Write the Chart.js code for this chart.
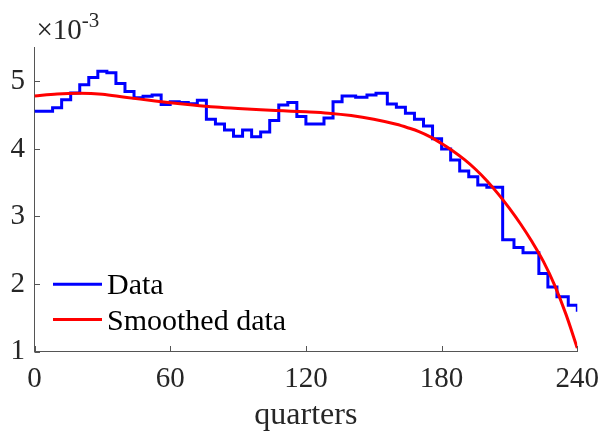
<!doctype html>
<html>

<head>
  <title>Data vs smoothed data</title>
  <script src="https://cdn.jsdelivr.net/npm/chart.js@4.4.1/dist/chart.umd.min.js"></script>
  <style>
    body {
      margin: 0;
      background: #fff;
    }
  </style>
</head>

<body>
  <canvas id="myChart" width="602" height="435"></canvas>

  <script>
    // step data (values in units of 1e-3)
    var dataQuarters = [0, 8, 12, 16, 20, 24, 28, 32, 36, 40, 44, 48, 52, 56, 60, 64, 68, 72, 76, 80,
      84, 88, 92, 96, 100, 104, 108, 112, 116, 120, 128, 132, 136, 142, 147, 151, 156, 160, 164, 168,
      172, 176, 180, 184, 188, 192, 196, 200, 207, 212, 216, 223, 227, 231, 236, 240];
    var dataValues = [4.56, 4.61, 4.73, 4.83, 4.95, 5.06, 5.15, 5.13, 4.97, 4.85, 4.76, 4.78, 4.80, 4.66, 4.70, 4.69, 4.67, 4.72, 4.44, 4.37,
      4.28, 4.19, 4.28, 4.18, 4.25, 4.42, 4.65, 4.69, 4.48, 4.37, 4.46, 4.70, 4.785, 4.765, 4.80, 4.825, 4.667, 4.618, 4.53, 4.44,
      4.34, 4.15, 4.00, 3.835, 3.675, 3.59, 3.467, 3.433, 2.655, 2.54, 2.464, 2.155, 1.955, 1.81, 1.685, 1.59];

    var smoothQuarters = [0, 10, 20, 30, 40, 50, 60, 70, 80, 90, 100, 110, 120, 130, 140, 150, 160, 165, 170, 175,
      180, 185, 190, 195, 200, 205, 210, 215, 220, 225, 230, 235, 240];
    var smoothValues = [4.785, 4.815, 4.825, 4.81, 4.765, 4.725, 4.685, 4.65, 4.62, 4.598, 4.58, 4.565, 4.55, 4.53, 4.495, 4.44, 4.365, 4.315, 4.258, 4.18,
      4.08, 3.97, 3.845, 3.70, 3.53, 3.335, 3.12, 2.885, 2.625, 2.335, 1.98, 1.55, 1.05];

    var xTicks = [0, 60, 120, 180, 240];
    var yTicks = [1, 2, 3, 4, 5];

    var serif = '"Liberation Serif", "Times New Roman", serif';
    var textColor = '#262626';
    var axisColor = '#555';

    function toPoints(xs, ys) {
      return xs.map(function(x, i) {
        return { x: x, y: ys[i] };
      });
    }

    function noScalePadding(scale) {
      scale.paddingLeft = 0;
      scale.paddingRight = 0;
      scale.paddingTop = 0;
      scale.paddingBottom = 0;
    }

    // inward tick marks, exponent label and legend drawn inside the axes
    var matlabLook = {
      id: 'matlabLook',
      afterDraw: function(chart) {
        var ctx = chart.ctx;
        var area = chart.chartArea;
        var xs = chart.scales.x;
        var ys = chart.scales.y;
        var len = 5.5;

        ctx.save();
        ctx.strokeStyle = axisColor;
        ctx.lineWidth = 1;
        ctx.beginPath();
        xTicks.forEach(function(v) {
          var px = Math.round(xs.getPixelForValue(v)) + 0.5;
          ctx.moveTo(px, area.bottom);
          ctx.lineTo(px, area.bottom - len);
        });
        yTicks.forEach(function(v) {
          var py = Math.round(ys.getPixelForValue(v)) + 0.5;
          ctx.moveTo(area.left, py);
          ctx.lineTo(area.left + len, py);
        });
        ctx.stroke();

        ctx.fillStyle = textColor;
        ctx.textBaseline = 'alphabetic';
        ctx.textAlign = 'left';
        ctx.font = '29px ' + serif;
        ctx.fillText('\u00d710', area.left + 2, 38.5);
        var w = ctx.measureText('\u00d710').width;
        ctx.font = '21px ' + serif;
        ctx.fillText('-3', area.left + 2 + w, 26.5);

        var items = chart.data.datasets;
        var rows = [294.3, 329.5];
        ctx.font = '30px ' + serif;
        ctx.fillStyle = '#000';
        items.forEach(function(ds, i) {
          var base = rows[i];
          var ly = base - 10;
          ctx.strokeStyle = ds.borderColor;
          ctx.lineWidth = 3;
          ctx.beginPath();
          ctx.moveTo(53, ly);
          ctx.lineTo(102, ly);
          ctx.stroke();
          ctx.fillText(ds.label, 107, base);
        });
        ctx.restore();
      }
    };

    var config = {
      type: 'line',
      data: {
        datasets: [{
          label: 'Data',
          data: toPoints(dataQuarters, dataValues),
          borderColor: '#0000ff',
          borderWidth: 3,
          pointRadius: 0,
          stepped: true,
          order: 1
        }, {
          label: 'Smoothed data',
          data: toPoints(smoothQuarters, smoothValues),
          borderColor: '#ff0000',
          borderWidth: 3,
          pointRadius: 0,
          cubicInterpolationMode: 'monotone',
          order: 0
        }]
      },
      options: {
        responsive: false,
        animation: false,
        layout: {
          padding: { left: 0, right: 24.7, top: 47.7, bottom: 0 }
        },
        scales: {
          x: {
            type: 'linear',
            min: 0,
            max: 240,
            afterFit: function(scale) {
              scale.height = 83.5;
              noScalePadding(scale);
            },
            afterBuildTicks: function(scale) {
              scale.ticks = xTicks.map(function(v) { return { value: v }; });
            },
            ticks: {
              color: textColor,
              font: { family: serif, size: 29 },
              padding: 10,
              maxRotation: 0
            },
            grid: { drawOnChartArea: false, drawTicks: false },
            border: { display: true, color: axisColor, width: 1 },
            title: {
              display: true,
              text: 'quarters',
              color: textColor,
              font: { family: serif, size: 32 },
              padding: { top: 0, bottom: 0 }
            }
          },
          y: {
            min: 1,
            max: 5.5,
            afterFit: function(scale) {
              scale.width = 34.5;
              noScalePadding(scale);
            },
            afterBuildTicks: function(scale) {
              scale.ticks = yTicks.map(function(v) { return { value: v }; });
            },
            ticks: {
              color: textColor,
              font: { family: serif, size: 29 },
              padding: 9.5
            },
            grid: { drawOnChartArea: false, drawTicks: false },
            border: { display: true, color: axisColor, width: 1 }
          }
        },
        plugins: {
          legend: { display: false },
          tooltip: { enabled: false }
        }
      },
      plugins: [matlabLook]
    };

    var ctx = document.getElementById('myChart').getContext('2d');
    window.myChart = new Chart(ctx, config);
  </script>
</body>

</html>
